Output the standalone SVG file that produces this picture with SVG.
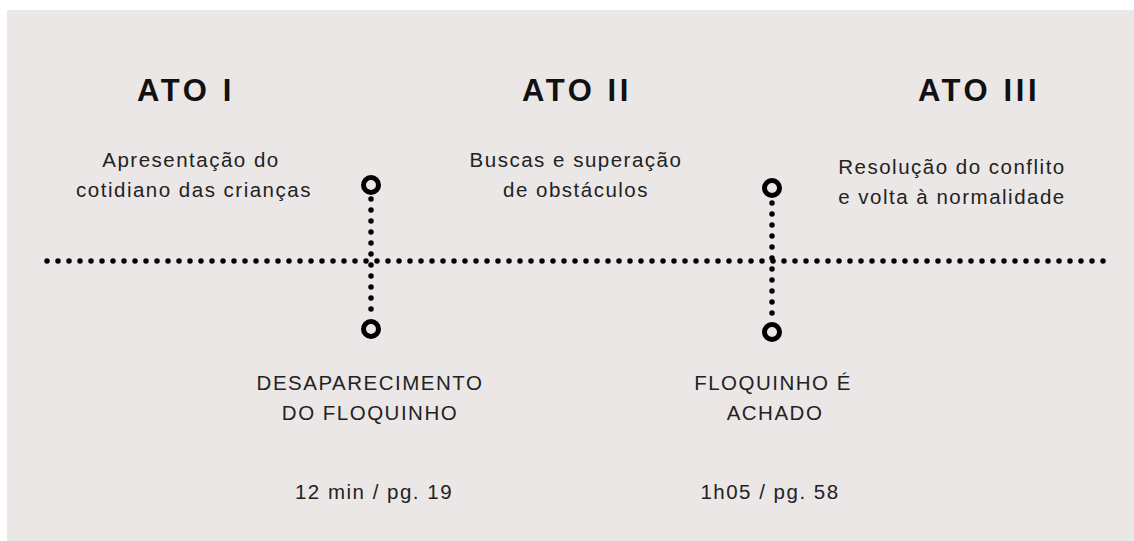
<svg xmlns="http://www.w3.org/2000/svg" width="1134" height="541" viewBox="0 0 1134 541">
  <defs>
    <style>
      .bg { fill: #ebe7e6; }
      .head { font-family: "Liberation Sans", Arial, sans-serif; font-weight: bold; font-size: 31px; letter-spacing: 3.6px; fill: #111; text-anchor: middle; }
      .body { font-family: "Liberation Sans", Arial, sans-serif; font-size: 20.5px; letter-spacing: 1.5px; fill: #222; text-anchor: middle; }
      .dots { fill: none; stroke: #000; stroke-width: 5.5; stroke-linecap: round; stroke-dasharray: 0 11; }
      .pin { fill: none; stroke: #000; stroke-width: 5; }
    </style>
  </defs>
  <rect x="0" y="0" width="1134" height="541" fill="#ffffff"/>
  <rect class="bg" x="7" y="10" width="1127" height="531"/>

  <g id="headers">
    <text class="head" x="186" y="101">ATO I</text>
    <text class="head" x="577" y="101">ATO II</text>
    <text class="head" x="979" y="101">ATO III</text>
  </g>

  <g id="act1-desc">
    <text class="body" x="191" y="167">Apresentação do</text>
    <text class="body" x="194" y="197">cotidiano das crianças</text>
  </g>
  <g id="act2-desc">
    <text class="body" x="576" y="167">Buscas e superação</text>
    <text class="body" x="576" y="197">de obstáculos</text>
  </g>
  <g id="act3-desc">
    <text class="body" x="952" y="174">Resolução do conflito</text>
    <text class="body" x="952" y="204">e volta à normalidade</text>
  </g>

  <g id="connectors">
    <line class="dots" x1="47" y1="261" x2="1104" y2="261"/>
    <line class="dots" x1="371" y1="199" x2="371" y2="316"/>
    <line class="dots" x1="772" y1="203" x2="772" y2="320"/>
  </g>

  <g id="point1">
    <circle class="pin" cx="371" cy="185" r="7.5"/>
    <circle class="pin" cx="371" cy="329" r="7.5"/>
    <text class="body" x="370" y="390">DESAPARECIMENTO</text>
    <text class="body" x="370" y="420">DO FLOQUINHO</text>
    <text class="body" x="374" y="499">12 min / pg. 19</text>
  </g>
  <g id="point2">
    <circle class="pin" cx="772" cy="188" r="7.5"/>
    <circle class="pin" cx="772" cy="332" r="7.5"/>
    <text class="body" x="773" y="390">FLOQUINHO É</text>
    <text class="body" x="775" y="420">ACHADO</text>
    <text class="body" x="770" y="499">1h05 / pg. 58</text>
  </g>
</svg>
